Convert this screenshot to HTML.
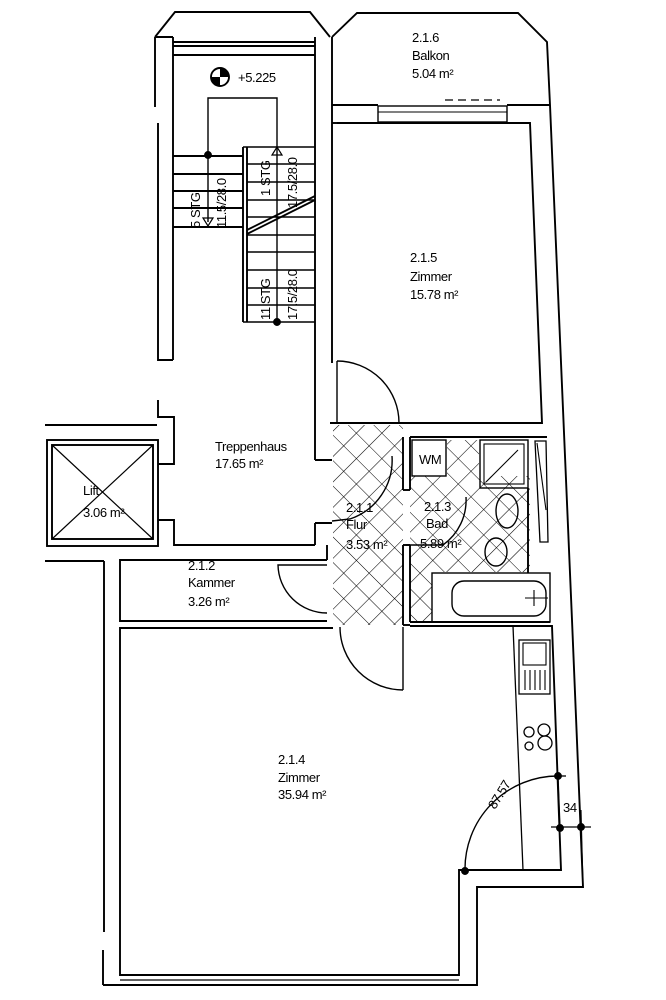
<!DOCTYPE html>
<html><head><meta charset="utf-8"><style>
html,body{margin:0;padding:0;background:#fff;}
svg{display:block;}
text{font-family:"Liberation Sans Narrow","Liberation Sans",sans-serif;font-size:13px;fill:#000;letter-spacing:-0.4px;}
</style></head><body>
<svg width="666" height="1000" viewBox="0 0 666 1000" xmlns="http://www.w3.org/2000/svg">
<defs>
<pattern id="h" width="18" height="18" patternUnits="userSpaceOnUse" patternTransform="rotate(45)">
<path d="M0 0H18M0 0V18" stroke="#000" stroke-width="1.1" fill="none"/>
</pattern>
</defs>
<g fill="none" stroke="#000" stroke-width="1.9">
<rect x="333" y="425" width="70" height="200" fill="url(#h)" stroke="none"/>
<rect x="410" y="476" width="120" height="96" fill="url(#h)" stroke="none"/>
<rect x="447" y="440" width="32" height="36" fill="url(#h)" stroke="none"/>
<rect x="410" y="572" width="22" height="50" fill="url(#h)" stroke="none"/>

<polyline points="155,37 175,12 310,12 330,37"/>
<line x1="173" y1="42" x2="315" y2="42"/><line x1="173" y1="46" x2="315" y2="46"/>
<line x1="173" y1="55" x2="315" y2="55"/>
<polyline points="155,37 155,107"/>
<polyline points="158,123 158,360 173,360"/>
<line x1="173" y1="37" x2="173" y2="360"/>
<line x1="155" y1="37" x2="173" y2="37"/>
<line x1="315" y1="37" x2="315" y2="460"/>
<line x1="332" y1="37" x2="332" y2="363"/>
<polyline points="315,460 332,460"/>
<polyline points="315,523 332,523"/>
<line x1="315" y1="523" x2="315" y2="545"/>
<polyline points="158,400 158,417 174,417 174,464 158,464"/>
<polyline points="158,520 174,520 174,545 315,545"/>
<line x1="45" y1="425" x2="157" y2="425"/>
<rect x="47" y="440" width="111" height="106"/>
<rect x="52" y="445" width="101" height="94"/>
<line x1="52" y1="445" x2="153" y2="539" stroke-width="1.2"/>
<line x1="153" y1="445" x2="52" y2="539" stroke-width="1.2"/>
<line x1="173" y1="156" x2="243" y2="156"/>
<line x1="173" y1="174" x2="243" y2="174"/>
<line x1="173" y1="191" x2="243" y2="191"/>
<line x1="173" y1="208" x2="243" y2="208"/>
<line x1="173" y1="227" x2="243" y2="227"/>
<line x1="243" y1="147" x2="243" y2="322"/>
<line x1="247" y1="147" x2="247" y2="322"/>
<g stroke-width="1.5">
<line x1="243" y1="147" x2="315" y2="147"/><line x1="247" y1="164" x2="315" y2="164"/>
<line x1="247" y1="182" x2="315" y2="182"/><line x1="247" y1="200" x2="315" y2="200"/>
<line x1="247" y1="217" x2="315" y2="217"/><line x1="247" y1="235" x2="315" y2="235"/>
<line x1="247" y1="252" x2="315" y2="252"/><line x1="247" y1="270" x2="315" y2="270"/>
<line x1="247" y1="288" x2="315" y2="288"/><line x1="247" y1="305" x2="315" y2="305"/>
<line x1="243" y1="322" x2="315" y2="322"/>
</g>
<line x1="247" y1="230" x2="315" y2="196"/><line x1="247" y1="234" x2="315" y2="200"/>
<polyline points="208,222 208,98 277,98 277,322" stroke-width="1.4"/>
<polygon points="203,218 213,218 208,226" stroke-width="1.2"/>
<polygon points="272,155 282,155 277,147" stroke-width="1.2"/>
<circle cx="208" cy="155" r="3" fill="#000"/>
<circle cx="277" cy="322" r="3" fill="#000"/>
<circle cx="220" cy="77" r="9"/>
<path d="M220 68A9 9 0 0 1 229 77H220Z M220 86A9 9 0 0 1 211 77H220Z" fill="#000" stroke="none"/>

<polyline points="332,37 357,13 518,13 547,42 550,105"/>
<polyline points="332,105 378,105"/><polyline points="507,105 550,105"/>
<rect x="378" y="106" width="129" height="16" stroke-width="1.4"/>
<line x1="378" y1="112" x2="507" y2="112" stroke-width="1.1"/>
<line x1="445" y1="100" x2="500" y2="100" stroke-dasharray="8,5" stroke-width="1.3"/>
<polyline points="550,105 572,620 583,887 477,887 477,985 103,985"/>
<polyline points="337,123 530,123 542,423 330,423"/>
<line x1="332" y1="123" x2="337" y2="123"/>
<line x1="337" y1="361" x2="337" y2="423" stroke-width="1.4"/>
<path d="M337 361A62 62 0 0 1 399 423" stroke-width="1.4"/>
<path d="M332 521L350 519A62 62 0 0 0 392 456" stroke-width="1.4"/>
<line x1="403" y1="437" x2="403" y2="490"/><line x1="410" y1="437" x2="410" y2="490"/>
<line x1="403" y1="545" x2="403" y2="625"/><line x1="410" y1="545" x2="410" y2="622"/>
<line x1="410" y1="437" x2="547" y2="437"/>
<line x1="403" y1="490" x2="410" y2="490"/><line x1="403" y1="545" x2="410" y2="545"/>
<path d="M406 545L443 545A55 55 0 0 0 466 497" stroke-width="1.4"/>
<rect x="412" y="440" width="34" height="36" stroke-width="1.4"/>
<rect x="480" y="440" width="48" height="48" stroke-width="1.4"/>
<rect x="484" y="444" width="40" height="40" stroke-width="1.1"/>
<line x1="486" y1="482" x2="518" y2="450" stroke-width="1.1"/>
<polygon points="535,441 546,441 548,542 540,542" stroke-width="1.3"/>
<line x1="537" y1="443" x2="546" y2="510" stroke-width="1.1"/>
<ellipse cx="507" cy="511" rx="11" ry="17" stroke-width="1.4"/>
<ellipse cx="496" cy="552" rx="11" ry="14" stroke-width="1.4"/>
<line x1="528" y1="488" x2="528" y2="573"/>
<rect x="432" y="573" width="118" height="49" stroke-width="1.4"/>
<rect x="452" y="581" width="94" height="35" rx="12" stroke-width="1.4"/>
<line x1="525" y1="598" x2="548" y2="598" stroke-width="1.1"/><line x1="534" y1="590" x2="534" y2="606" stroke-width="1.1"/>
<line x1="410" y1="622" x2="550" y2="622"/>
<line x1="403" y1="625" x2="410" y2="625"/>
<line x1="45" y1="561" x2="104" y2="561"/>
<line x1="104" y1="561" x2="104" y2="932"/>
<line x1="103" y1="950" x2="103" y2="985"/>
<polyline points="327,560 120,560 120,621 327,621"/>
<line x1="327" y1="545" x2="327" y2="560"/>
<path d="M327 565L278 565A49 49 0 0 0 327 613" stroke-width="1.4"/>
<polyline points="333,628 120,628 120,975 459,975 459,870 561,870 552,626 410,626"/>
<line x1="120" y1="980" x2="459" y2="980" stroke-width="1.3"/>
<line x1="403" y1="627" x2="403" y2="690" stroke-width="1.4"/>
<path d="M340 627A63 63 0 0 0 403 690" stroke-width="1.4"/>
<line x1="513" y1="626" x2="523" y2="870" stroke-width="1.3"/>
<rect x="519" y="640" width="31" height="54" stroke-width="1.3"/>
<rect x="523" y="643" width="23" height="22" stroke-width="1.1"/>
<g stroke-width="1.1"><line x1="525" y1="670" x2="525" y2="690"/><line x1="530" y1="670" x2="530" y2="690"/><line x1="535" y1="670" x2="535" y2="690"/><line x1="540" y1="670" x2="540" y2="690"/><line x1="545" y1="670" x2="545" y2="690"/></g>
<circle cx="529" cy="732" r="5" stroke-width="1.3"/><circle cx="544" cy="730" r="6" stroke-width="1.3"/>
<circle cx="529" cy="746" r="4" stroke-width="1.3"/><circle cx="545" cy="743" r="7" stroke-width="1.3"/>
<path d="M465 871A93 93 0 0 1 558 776" stroke-width="1.4"/>
<line x1="558" y1="776" x2="560" y2="828" stroke-width="1.3"/>
<line x1="551" y1="827" x2="591" y2="827" stroke-width="1.3"/>
<line x1="581" y1="810" x2="583" y2="887" stroke-width="1.1"/>
<line x1="558" y1="776" x2="566" y2="776" stroke-width="1.3"/>
<circle cx="558" cy="776" r="3" fill="#000"/><circle cx="560" cy="828" r="3" fill="#000"/>
<circle cx="581" cy="827" r="3" fill="#000"/><circle cx="465" cy="871" r="3" fill="#000"/>
</g>
<text x="238" y="82">+5.225</text>
<text x="412" y="42">2.1.6</text><text x="412" y="60">Balkon</text><text x="412" y="78">5.04 m²</text>
<text x="410" y="262">2.1.5</text><text x="410" y="281">Zimmer</text><text x="410" y="299">15.78 m²</text>
<text x="215" y="451">Treppenhaus</text><text x="215" y="468">17.65 m²</text>
<text x="83" y="495">Lift</text><text x="83" y="517">3.06 m²</text>
<text x="188" y="570">2.1.2</text><text x="188" y="587">Kammer</text><text x="188" y="606">3.26 m²</text>
<text x="346" y="512">2.1.1</text><text x="346" y="529">Flur</text><text x="346" y="549">3.53 m²</text>
<text x="424" y="511">2.1.3</text><text x="426" y="528">Bad</text><text x="420" y="548">5.89 m²</text>
<text x="419" y="464" font-size="12">WM</text>
<text x="278" y="764">2.1.4</text><text x="278" y="782">Zimmer</text><text x="278" y="799">35.94 m²</text>
<text x="563" y="812" font-size="14">34</text>
<text transform="translate(495,810) rotate(-58)" font-size="13">87.57</text>
<g font-size="12">
<text transform="translate(200,228) rotate(-90)">5 STG</text>
<text transform="translate(226,228) rotate(-90)">11.5/28.0</text>
<text transform="translate(270,196) rotate(-90)">1 STG</text>
<text transform="translate(297,208) rotate(-90)">17.5/28.0</text>
<text transform="translate(270,320) rotate(-90)">11 STG</text>
<text transform="translate(297,320) rotate(-90)">17.5/28.0</text>
</g>
</svg>
</body></html>
